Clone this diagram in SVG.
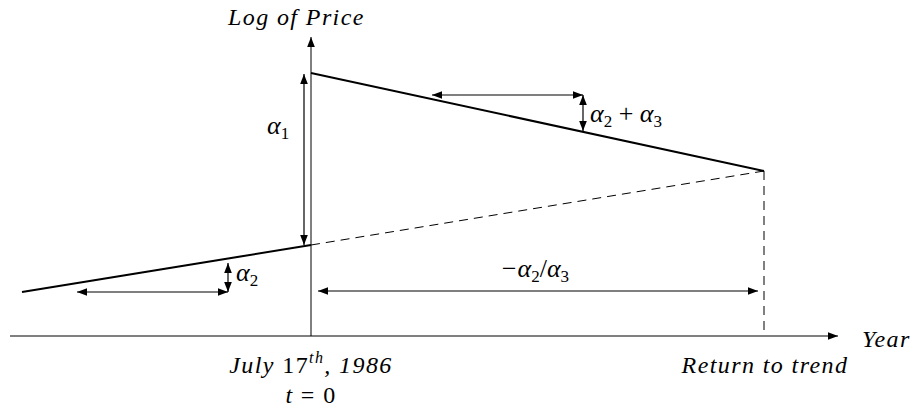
<svg xmlns="http://www.w3.org/2000/svg" width="913" height="411" viewBox="0 0 913 411">
<defs>
<marker id="ah" viewBox="0 0 10 10" refX="10" refY="5" markerWidth="10" markerHeight="10" markerUnits="userSpaceOnUse" orient="auto-start-reverse">
<path d="M0,1.2 L10,5 L0,8.8 Z" fill="#000"/>
</marker>
<style>
.ax{stroke:#000;stroke-width:1;fill:none}
.thick{stroke:#000;stroke-width:2;fill:none}
.dash{stroke:#000;stroke-width:1;fill:none;stroke-dasharray:9,6}
.dim{stroke:#000;stroke-width:1.2;fill:none}
</style>
</defs>
<g id="axes">
<line class="ax" x1="10" y1="336" x2="838" y2="336" marker-end="url(#ah)"/>
<line class="ax" x1="311" y1="336" x2="311" y2="37" marker-end="url(#ah)"/>
<g font-family="Liberation Serif" font-style="italic" font-size="24" letter-spacing="1.4">
<text x="228" y="25">Log of Price</text>
<text x="862" y="347">Year</text>
</g>
</g>
<g id="lines">
<line class="thick" x1="22" y1="292" x2="311" y2="245"/>
<line class="thick" x1="311" y1="73" x2="764" y2="171"/>
<line class="dash" x1="311" y1="245" x2="764" y2="171"/>
<line class="dash" x1="764" y1="171" x2="764" y2="336"/>
</g>
<g id="connectors">
<line class="dim" x1="304" y1="74" x2="304" y2="245" marker-start="url(#ah)" marker-end="url(#ah)"/>
<line class="dim" x1="77" y1="292" x2="228" y2="292" marker-start="url(#ah)" marker-end="url(#ah)"/>
<line class="dim" x1="228" y1="263" x2="228" y2="292" marker-start="url(#ah)" marker-end="url(#ah)"/>
<line class="dim" x1="432" y1="95" x2="583" y2="95" marker-start="url(#ah)" marker-end="url(#ah)"/>
<line class="dim" x1="583" y1="95" x2="583" y2="131" marker-start="url(#ah)" marker-end="url(#ah)"/>
<line class="dim" x1="318" y1="291" x2="758" y2="291" marker-start="url(#ah)" marker-end="url(#ah)"/>
</g>
<g id="labels" font-family="Liberation Serif" font-style="italic" font-size="26">
<text x="267" y="134">α<tspan font-style="normal" font-size="17" dy="5">1</tspan></text>
<text x="236" y="281">α<tspan font-style="normal" font-size="17" dy="5">2</tspan></text>
<text x="590" y="122">α<tspan font-style="normal" font-size="17" dy="5">2</tspan><tspan font-style="normal" dy="-5"> + </tspan>α<tspan font-style="normal" font-size="17" dy="5">3</tspan></text>
<text x="500" y="277">−α<tspan font-style="normal" font-size="17" dy="5">2</tspan><tspan font-style="normal" dy="-5">/</tspan>α<tspan font-style="normal" font-size="17" dy="5">3</tspan></text>
<g font-size="24" letter-spacing="1.4">
<text x="311" y="373" text-anchor="middle">July <tspan font-style="normal">17</tspan><tspan font-size="16" dy="-10">th</tspan><tspan dy="10">,  1986</tspan></text>
<text x="311" y="403" text-anchor="middle">t <tspan font-style="normal">= 0</tspan></text>
<text x="765" y="373" text-anchor="middle">Return to trend</text>
</g>
</g>
</svg>
